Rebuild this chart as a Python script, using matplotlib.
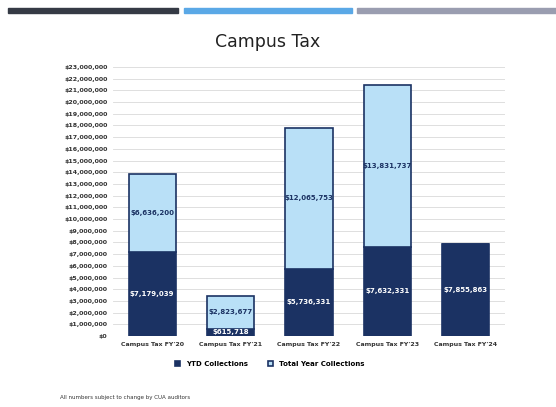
import numpy as np
import matplotlib
matplotlib.use("Agg")
import matplotlib.pyplot as plt
from matplotlib.patches import Rectangle

categories = ["Campus Tax FY'20", "Campus Tax FY'21", "Campus Tax FY'22",
              "Campus Tax FY'23", "Campus Tax FY'24"]
ytd = [7179039, 615718, 5736331, 7632331, 7855863]
total_year = [6636200, 2823677, 12065753, 13831737, 0]
legend_labels = ["YTD Collections", "Total Year Collections"]

dark = "#1b3263"
light = "#b9e0f7"
font = ["Liberation Sans Narrow", "DejaVu Sans"]
plt.rcParams['font.family'] = font

fig = plt.figure(figsize=(5.56, 4.07), dpi=100)

# decorative strips at the top
for x0, x1, c in [(8, 178, "#353a45"), (184, 352, "#5aa8e6"), (357, 556, "#9a9db0")]:
    fig.patches.append(Rectangle((x0 / 556, 1 - 13 / 407), (x1 - x0) / 556, 5 / 407,
                                 transform=fig.transFigure, color=c, zorder=0))

fig.text(268 / 556, 1 - 42 / 407, "Campus Tax", ha="center", va="center", fontsize=12.5,
         family=["DejaVu Sans"], color="#222222")

ax = fig.add_axes([113 / 556, 1 - 336 / 407, (505 - 113) / 556, (336 - 67) / 407])
x = np.arange(len(categories))
w = 0.6
ax.bar(x, ytd, w, color=dark, edgecolor=dark, linewidth=1.2, label=legend_labels[0], zorder=3)
ax.bar(x, total_year, w, bottom=ytd, color=light, edgecolor=dark, linewidth=1.2,
       label=legend_labels[1], zorder=3)

for i in range(len(categories)):
    ax.text(x[i], ytd[i] / 2, f"${ytd[i]:,}", ha="center", va="center", color="white",
            fontsize=5, fontweight="bold", zorder=4)
    if total_year[i] > 0:
        ax.text(x[i], ytd[i] + total_year[i] / 2, f"${total_year[i]:,}", ha="center",
                va="center", color="#1b3263", fontsize=5, fontweight="bold", zorder=4)

ax.set_ylim(0, 23000000)
ax.set_xlim(-0.5, len(categories) - 0.5)
ax.set_yticks(np.arange(0, 23000001, 1000000))
ax.set_yticklabels([f"${v:,}" if v else "$0" for v in range(0, 23000001, 1000000)])
ax.set_xticks(x)
ax.set_xticklabels(categories)
ax.tick_params(axis="both", length=0, labelsize=4.5, colors="#333333", pad=4)
for lab in ax.get_xticklabels() + ax.get_yticklabels():
    lab.set_fontweight("bold")
ax.grid(axis="y", color="#d9d9d9", linewidth=0.6, zorder=0)
for s in ax.spines.values():
    s.set_visible(False)

ax.legend(loc="upper center", bbox_to_anchor=(0.4, -0.07), ncol=2, frameon=False,
          handlelength=0.7, handleheight=0.7, columnspacing=3,
          prop={"weight": "bold", "size": 5})

fig.text(60 / 556, 1 - 397 / 407, "All numbers subject to change by CUA auditors",
         fontsize=4, ha="left", va="center", color="#333333")

fig.savefig("out.png", dpi=100)
